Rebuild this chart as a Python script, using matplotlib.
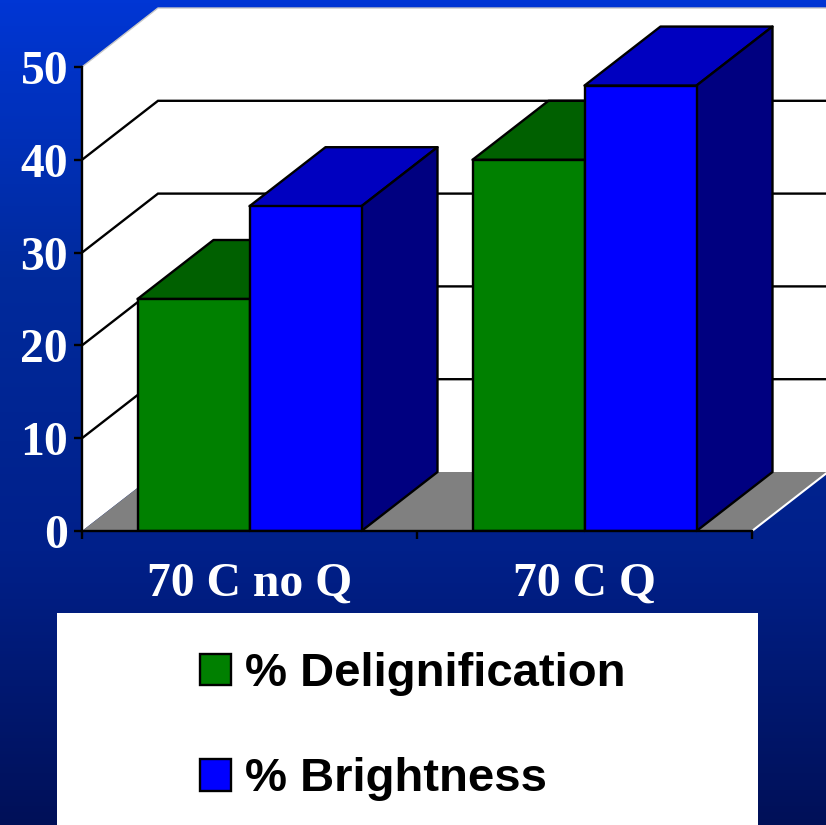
import numpy as np
import matplotlib
matplotlib.use("Agg")
import matplotlib.pyplot as plt
from matplotlib.font_manager import FontProperties
from matplotlib.patches import Polygon, Patch, Rectangle
from matplotlib.colors import LinearSegmentedColormap

categories = ["70 C no Q", "70 C Q"]
delignification = [25, 40]
brightness = [35, 48]
series_names = ["% Delignification", "% Brightness"]
y_ticks = [0, 10, 20, 30, 40, 50]

W, H = 826, 825
LW = 1.7
fig = plt.figure(figsize=(W / 100, H / 100), dpi=100)

# Slide-style vertical gradient behind everything
bg = fig.add_axes([0, 0, 1, 1], zorder=0)
bg.axis("off")
cmap = LinearSegmentedColormap.from_list("slide", ["#0036D4", "#002A9C", "#00208A", "#001058"])
bg.imshow(np.linspace(0, 1, 256)[:, None], aspect="auto", cmap=cmap, extent=[0, 1, 0, 1])
bg.set_xlim(0, 1)
bg.set_ylim(0, 1)

# Plot frame: front floor edge and front wall edge
left, right, bottom, top = 82, 752, 531, 67
ax = fig.add_axes([left / W, 1 - bottom / H, (right - left) / W, (bottom - top) / H], zorder=1)
ax.patch.set_visible(False)
ax.set_xlim(0, 2)
ax.set_ylim(0, 50)
dx = 76 / (right - left) * 2
dy = 59 / (bottom - top) * 50
wall_end = 2 + dx


def poly(points, face, edge="none", lw=LW, z=2):
    ax.add_patch(Polygon(points, closed=True, facecolor=face, edgecolor=edge,
                         linewidth=lw, zorder=z, clip_on=False, joinstyle="round"))


# Walls, floor and gridlines
poly([(0, 0), (0, 50), (dx, 50 + dy), (wall_end, 50 + dy), (wall_end, dy), (dx, dy)], "white", z=1)
poly([(0, 0), (dx, dy), (wall_end, dy), (2, 0)], "#808080", z=1.2)
ax.plot([0, dx, wall_end], [50, 50 + dy, 50 + dy], color="#C8C8C8", lw=1.0, zorder=1.3, clip_on=False)
ax.plot([2, wall_end], [0, dy], color="white", lw=1.5, zorder=1.3, clip_on=False)
for v in y_ticks[1:-1]:
    ax.plot([0, dx, wall_end], [v, v + dy, v + dy], color="black", lw=LW,
            zorder=1.5, clip_on=False, solid_joinstyle="miter")

# Extruded bars: front face, lid and side for each value
bar_w = 112 / (right - left) * 2
palette = [("#008000", "#006000", "#004000"), ("#0000FF", "#0000C0", "#000080")]
z = 3
for i in range(len(categories)):
    for j, values in enumerate([delignification, brightness]):
        v = values[i]
        x0 = i + 0.5 + (j - 1) * bar_w
        x1 = x0 + bar_w
        front, lid, side = palette[j]
        ax.bar(x0, v, width=bar_w, align="edge", color=front, edgecolor="black",
               linewidth=LW, zorder=z + 0.2)
        poly([(x0, v), (x1, v), (x1 + dx, v + dy), (x0 + dx, v + dy)], lid, "black", z=z)
        poly([(x1, 0), (x1, v), (x1 + dx, v + dy), (x1 + dx, dy)], side, "black", z=z + 0.1)
        z += 1

# Axes, ticks and labels
for s in ["top", "right"]:
    ax.spines[s].set_visible(False)
for s in ["left", "bottom"]:
    ax.spines[s].set_linewidth(LW)
    ax.spines[s].set_zorder(20)
ax.set_yticks(y_ticks)
ax.set_xticks([0, 1, 2])
ax.set_xticklabels([])
ax.set_xticks([0.5, 1.5], labels=categories, minor=True)
ax.tick_params(axis="y", length=6, width=LW, pad=4, direction="out")
ax.tick_params(axis="x", which="major", length=6, width=LW)
ax.tick_params(axis="x", which="minor", length=0, pad=22)
label_font = FontProperties(family="Liberation Serif", weight="bold", size=34.3)
for t in ax.get_yticklabels() + ax.get_xticklabels(minor=True):
    t.set_fontproperties(label_font)
    t.set_color("white")

# Legend on a white panel running off the bottom edge
fig.add_artist(Rectangle((57 / W, 0), (758 - 57) / W, 1 - 613 / H, transform=fig.transFigure,
                         facecolor="white", edgecolor="none", zorder=5))
handles = [Patch(facecolor=p[0], edgecolor="black", linewidth=LW) for p in palette]
leg = fig.legend(handles, series_names, loc="upper left", bbox_to_anchor=(200 / W, 1 - 652 / H),
                 frameon=False, handlelength=0.65, handleheight=0.65, handletextpad=0.3,
                 labelspacing=1.3, borderpad=0, borderaxespad=0,
                 prop=dict(family="Liberation Sans", weight="bold", size=34))
leg.set_zorder(6)

fig.savefig("out.png", dpi=100)
